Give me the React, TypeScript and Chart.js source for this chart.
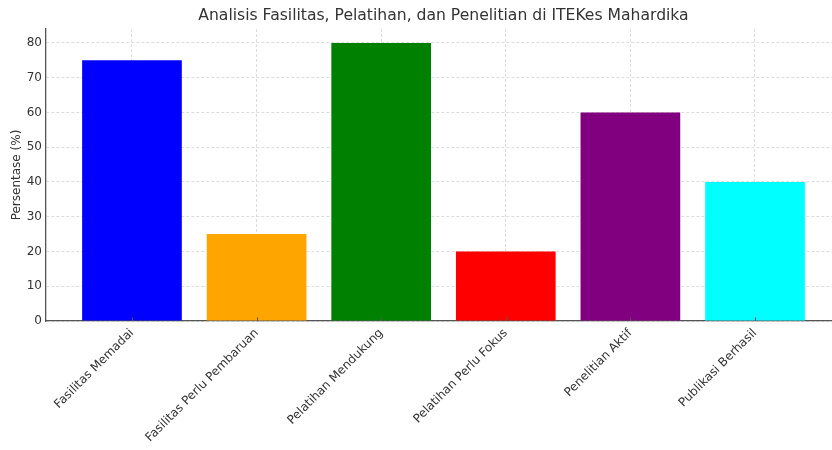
import React, { useEffect, useRef } from "react";
import { Chart, registerables } from "chart.js";

Chart.register(...registerables);

const categories = [
  "Fasilitas Memadai",
  "Fasilitas Perlu Pembaruan",
  "Pelatihan Mendukung",
  "Pelatihan Perlu Fokus",
  "Penelitian Aktif",
  "Publikasi Berhasil",
];
const values = [75, 25, 80, 20, 60, 40];
const barColors = ["#0000ff", "#ffa500", "#008000", "#ff0000", "#800080", "#00ffff"];
const yTicks = [0, 10, 20, 30, 40, 50, 60, 70, 80];
const titleText = "Analisis Fasilitas, Pelatihan, dan Penelitian di ITEKes Mahardika";
const yLabel = "Persentase (%)";

const FONT = "'DejaVu Sans', sans-serif";

export default function App() {
  const ref = useRef<HTMLCanvasElement | null>(null);
  useEffect(() => {
    if (!ref.current) return;
    const titlePlugin = {
      id: "centerTitle",
      afterDraw(chart: any) {
        const ctx = chart.ctx;
        const xs = chart.scales.x;
        const cx = xs.getPixelForValue((categories.length - 1) / 2);
        ctx.save();
        ctx.font = `15.6px ${FONT}`;
        ctx.fillStyle = "#333333";
        ctx.textAlign = "center";
        ctx.textBaseline = "middle";
        ctx.fillText(titleText, cx, 16);
        // inward tick marks on x axis
        ctx.strokeStyle = "#555555";
        ctx.lineWidth = 1;
        const bottom = chart.chartArea.bottom;
        categories.forEach((_, i) => {
          const px = Math.round(xs.getPixelForValue(i)) + 0.5;
          ctx.beginPath();
          ctx.moveTo(px, bottom);
          ctx.lineTo(px, bottom - 3.5);
          ctx.stroke();
        });
        ctx.restore();
      },
    };
    const chart = new Chart(ref.current, {
      type: "bar",
      data: {
        datasets: [
          {
            data: categories.map((_, i) => ({ x: i, y: values[i] })),
            backgroundColor: barColors,
            borderWidth: 0,
            barPercentage: 0.8,
            categoryPercentage: 1,
          },
        ],
      },
      options: {
        animation: false,
        responsive: false,
        events: [],
        layout: { padding: { top: 29, right: 0, left: 0, bottom: 0 } },
        plugins: {
          legend: { display: false },
          tooltip: { enabled: false },
          title: { display: false },
        },
        scales: {
          x: {
            type: "linear",
            min: -0.69,
            max: 5.618,
            offset: false,
            z: 1,
            afterBuildTicks: (scale: any) => {
              scale.ticks = categories.map((_, i) => ({ value: i }));
            },
            afterFit: (scale: any) => {
              scale.height = 129;
            },
            ticks: {
              autoSkip: false,
              minRotation: 45,
              maxRotation: 45,
              padding: 5,
              color: "#333333",
              font: { family: FONT, size: 12 },
              callback: (v: any) => categories[Math.round(Number(v))] ?? "",
            },
            grid: {
              offset: false,
              color: "#d4d4d4",
              lineWidth: 0.8,
              drawTicks: false,
            },
            border: { color: "#555555", width: 1.3, dash: [3, 2] },
          },
          y: {
            min: 0,
            max: 84,
            z: 1,
            afterBuildTicks: (scale: any) => {
              scale.ticks = yTicks.map((v) => ({ value: v }));
            },
            afterFit: (scale: any) => {
              scale.width = 46;
            },
            ticks: {
              padding: 4,
              color: "#333333",
              font: { family: FONT, size: 12 },
            },
            grid: {
              color: "#d4d4d4",
              lineWidth: 0.8,
              drawTicks: false,
            },
            border: { color: "#555555", width: 1.3, dash: [3, 2] },
            title: {
              display: true,
              text: yLabel,
              color: "#333333",
              font: { family: FONT, size: 12 },
              padding: { top: 10, bottom: 0 },
            },
          },
        },
      },
      plugins: [titlePlugin],
    });
    return () => chart.destroy();
  }, []);
  return (
    <div style={{ position: "absolute", left: 0, top: 0, width: 832, height: 450, background: "#fff" }}>
      <canvas ref={ref} width={832} height={450} style={{ display: "block" }} />
    </div>
  );
}
